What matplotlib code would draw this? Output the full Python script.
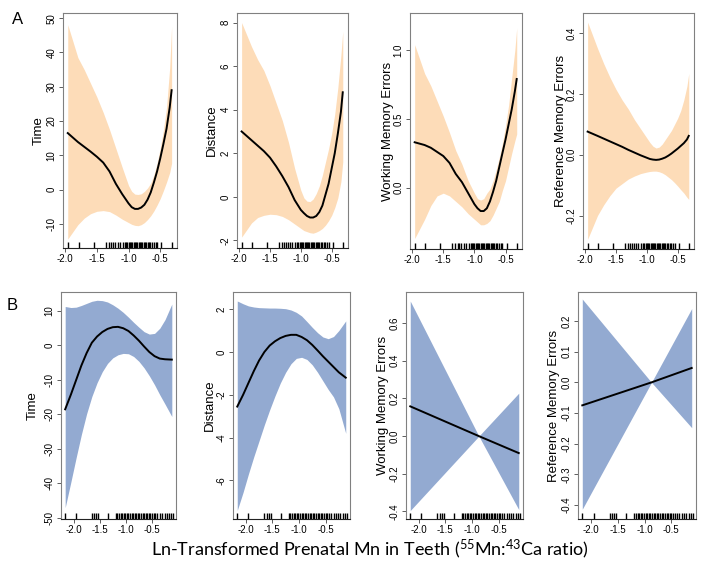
import numpy as np
import matplotlib
matplotlib.use('Agg')
from matplotlib import pyplot as plt

plt.rcParams['font.family'] = ['Liberation Sans', 'DejaVu Sans']
plt.rcParams['axes.unicode_minus'] = False

# ---- row A : peach bands
xa = [-1.96, -1.8, -1.7, -1.6, -1.5, -1.4, -1.3, -1.2, -1.1, -1.0, -0.95, -0.9,
      -0.85, -0.8, -0.75, -0.7, -0.65, -0.6, -0.55, -0.5, -0.45, -0.4, -0.35, -0.32]
time_a = [16.5, 13.9, 12.5, 11.1, 9.6, 7.9, 5.3, 1.7, -1.3, -4.0, -5.1, -5.6,
          -5.6, -5.2, -4.4, -2.9, -0.8, 2.1, 5.3, 9.1, 13.3, 17.8, 24.0, 29.0]
time_a_lo = [-14.4, -10.2, -8.3, -7.0, -6.3, -6.1, -6.4, -7.4, -8.6, -9.6, -10.1, -10.4,
             -10.5, -10.2, -9.6, -8.7, -7.6, -6.2, -4.5, -2.6, -0.3, 2.2, 5.0, 7.7]
time_a_hi = [48.1, 38.5, 35.0, 31.0, 27.0, 22.5, 17.5, 12.0, 6.5, 1.2, -0.5, -1.3,
             -1.4, -1.2, -0.5, 0.5, 1.9, 4.3, 7.7, 12.0, 17.3, 24.0, 35.6, 47.6]
dist_a = [3.0, 2.6, 2.35, 2.1, 1.8, 1.4, 0.95, 0.45, -0.15, -0.6, -0.75, -0.88,
          -0.95, -0.95, -0.88, -0.7, -0.4, 0.1, 0.6, 1.3, 2.0, 2.9, 3.9, 4.8]
dist_a_lo = [-1.85, -1.2, -0.95, -0.85, -0.8, -0.82, -0.9, -1.05, -1.25, -1.45, -1.55, -1.6,
             -1.65, -1.67, -1.62, -1.55, -1.45, -1.3, -1.1, -0.85, -0.5, -0.05, 0.7, 1.6]
dist_a_hi = [8.0, 6.9, 6.3, 5.8, 5.1, 4.3, 3.5, 2.5, 1.3, 0.3, -0.05, -0.2,
             -0.22, -0.1, 0.15, 0.5, 1.0, 1.6, 2.2, 2.9, 3.8, 5.0, 6.5, 7.6]
wme_a = [0.33, 0.31, 0.29, 0.26, 0.23, 0.18, 0.10, 0.04, -0.04, -0.12, -0.15, -0.17,
         -0.17, -0.15, -0.10, -0.03, 0.05, 0.15, 0.25, 0.35, 0.46, 0.57, 0.70, 0.79]
wme_a_lo = [-0.37, -0.23, -0.13, -0.06, -0.04, -0.06, -0.1, -0.14, -0.19, -0.23, -0.25, -0.27,
            -0.27, -0.26, -0.24, -0.2, -0.15, -0.1, -0.02, 0.05, 0.15, 0.25, 0.34, 0.39]
wme_a_hi = [1.04, 0.83, 0.74, 0.63, 0.52, 0.40, 0.27, 0.17, 0.05, -0.04, -0.08, -0.09,
            -0.08, -0.04, -0.01, 0.05, 0.13, 0.22, 0.32, 0.45, 0.6, 0.8, 1.0, 1.16]
rme_a = [0.076, 0.062, 0.053, 0.044, 0.035, 0.026, 0.016, 0.007, -0.002, -0.010, -0.014, -0.016,
         -0.017, -0.016, -0.013, -0.009, -0.003, 0.004, 0.012, 0.02, 0.029, 0.038, 0.05, 0.062]
rme_a_lo = [-0.278, -0.2, -0.165, -0.135, -0.11, -0.095, -0.08, -0.07, -0.062, -0.057, -0.055, -0.054,
            -0.054, -0.056, -0.06, -0.066, -0.074, -0.082, -0.092, -0.103, -0.115, -0.126, -0.14, -0.147]
rme_a_hi = [0.436, 0.35, 0.3, 0.255, 0.215, 0.18, 0.15, 0.115, 0.085, 0.055, 0.04, 0.028,
            0.022, 0.025, 0.035, 0.05, 0.065, 0.08, 0.1, 0.12, 0.145, 0.18, 0.225, 0.267]
rug_a = [-1.96, -1.79, -1.55, -1.36, -1.31, -1.27, -1.24, -1.21, -1.17, -1.14, -1.09, -1.06,
         -1.04, -1.02, -1.0, -0.98, -0.96, -0.94, -0.92, -0.9, -0.88, -0.86, -0.84, -0.82,
         -0.8, -0.78, -0.76, -0.74, -0.72, -0.7, -0.68, -0.66, -0.63, -0.6, -0.57, -0.55,
         -0.48, -0.32]

# ---- row B : blue bands
xb = [-2.16, -2.05, -1.95, -1.85, -1.75, -1.65, -1.55, -1.45, -1.35, -1.25, -1.15,
      -1.05, -0.95, -0.85, -0.75, -0.65, -0.55, -0.45, -0.35, -0.25, -0.12]
time_b = [-18.5, -14.2, -10.0, -5.8, -2.2, 0.8, 2.6, 3.9, 4.8, 5.3, 5.4,
          5.0, 4.2, 2.9, 1.4, -0.3, -1.9, -3.1, -3.8, -4.0, -4.1]
time_b_lo = [-47.0, -39.5, -32.5, -25.8, -19.8, -14.8, -10.8, -7.6, -5.2, -3.6, -2.7,
             -2.3, -2.4, -3.2, -4.6, -6.5, -8.8, -11.4, -14.3, -17.0, -20.6]
time_b_hi = [11.3, 11.0, 11.1, 11.6, 12.2, 12.8, 13.1, 13.0, 12.6, 11.8, 10.8,
             9.6, 8.2, 6.7, 5.3, 4.0, 3.3, 3.5, 5.0, 7.5, 12.0]
dist_b = [-2.55, -2.0, -1.45, -0.9, -0.4, 0.0, 0.3, 0.5, 0.65, 0.75, 0.8,
          0.8, 0.7, 0.55, 0.33, 0.07, -0.2, -0.45, -0.7, -0.95, -1.2]
dist_b_lo = [-7.4, -6.55, -5.7, -4.9, -4.15, -3.4, -2.7, -2.05, -1.45, -0.95, -0.55,
             -0.3, -0.25, -0.35, -0.6, -0.95, -1.35, -1.75, -2.1, -2.65, -3.8]
dist_b_hi = [2.38, 2.25, 2.15, 2.1, 2.07, 2.06, 2.05, 2.05, 2.04, 2.02, 1.96,
             1.85, 1.68, 1.42, 1.15, 0.9, 0.7, 0.62, 0.72, 1.0, 1.45]
xb_lin = [-2.16, -0.87, -0.12]
wme_b = [0.158, 0.0, -0.09]
wme_b_lo = [-0.395, 0.0, -0.39]
wme_b_hi = [0.717, 0.0, 0.228]
rme_b = [-0.075, 0.0, 0.047]
rme_b_lo = [-0.414, 0.0, -0.148]
rme_b_hi = [0.272, 0.0, 0.241]
rug_b = [-2.16, -1.95, -1.65, -1.61, -1.57, -1.53, -1.34, -1.19, -1.16, -1.13, -1.10, -1.07,
         -1.04, -1.01, -0.98, -0.95, -0.92, -0.89, -0.86, -0.83, -0.80, -0.77, -0.74, -0.71,
         -0.68, -0.65, -0.62, -0.59, -0.56, -0.53, -0.50, -0.47, -0.44, -0.40, -0.35, -0.30,
         -0.26, -0.22, -0.17, -0.13, -0.09]

xticks = [-2.0, -1.5, -1.0, -0.5]
xticklabels = ['-2.0', '-1.5', '-1.0', '-0.5']

peach = '#fddcb8'
blue = '#93aad1'

W, H = 704, 566
fig = plt.figure(figsize=(W / 100, H / 100), dpi=100)


def panel(box, x, fit, lo, hi, rug, color, xlim, ylim, yticks, ylabels, ylab, labx):
    l, t, r, b = box
    ax = fig.add_axes([l / W, 1 - b / H, (r - l) / W, (b - t) / H])
    ax.fill_between(x, lo, hi, color=color, lw=0)
    ax.plot(x, fit, color='black', lw=1.4)
    ax.vlines(rug, 0, 0.025, color='black', lw=1.0, transform=ax.get_xaxis_transform())
    ax.set_xlim(xlim)
    ax.set_ylim(ylim)
    ax.set_xticks(xticks)
    ax.set_xticklabels(xticklabels, fontsize=7)
    ax.set_yticks(yticks)
    ax.set_yticklabels(ylabels, fontsize=7, rotation=90, va='center')
    ax.tick_params(length=3, width=0.6, color='#444444', pad=1.5)
    for s in ax.spines.values():
        s.set_color('#808080')
        s.set_linewidth(0.8)
    ax.spines['bottom'].set_color('#222222')
    ax.set_ylabel(ylab, fontsize=9.5)
    ax.yaxis.set_label_coords(labx, 0.5)
    return ax


xla = [-2.035, -0.235]
xlb = [-2.24, -0.04]

panel((63, 13, 177, 248), xa, time_a, time_a_lo, time_a_hi, rug_a, peach, xla, [-17, 51.5],
      [-10, 0, 10, 20, 30, 40, 50], ['-10', '0', '10', '20', '30', '40', '50'], 'Time', -0.16)
panel((237, 13, 348, 248), xa, dist_a, dist_a_lo, dist_a_hi, rug_a, peach, xla, [-2.35, 8.44],
      [-2, 0, 2, 4, 6, 8], ['-2', '0', '2', '4', '6', '8'], 'Distance', -0.17)
panel((410, 13, 522, 249), xa, wme_a, wme_a_lo, wme_a_hi, rug_a, peach, xla, [-0.446, 1.27],
      [0.0, 0.5, 1.0], ['0.0', '0.5', '1.0'], 'Working Memory Errors', -0.14)
panel((583, 13, 694, 249), xa, rme_a, rme_a_lo, rme_a_hi, rug_a, peach, xla, [-0.31, 0.466],
      [-0.2, 0.0, 0.2, 0.4], ['-0.2', '0.0', '0.2', '0.4'], 'Reference Memory Errors', -0.14)

panel((61, 292, 176, 519), xb, time_b, time_b_lo, time_b_hi, rug_b, blue, xlb, [-50.3, 15.5],
      [-50, -40, -30, -20, -10, 0, 10], ['-50', '-40', '-30', '-20', '-10', '0', '10'], 'Time', -0.19)
panel((233, 292, 350, 519), xb, dist_b, dist_b_lo, dist_b_hi, rug_b, blue, xlb, [-7.8, 2.8],
      [-6, -4, -2, 0, 2], ['-6', '-4', '-2', '0', '2'], 'Distance', -0.145)
panel((406, 292, 523, 519), xb_lin, wme_b, wme_b_lo, wme_b_hi, rug_b, blue, xlb, [-0.44, 0.765],
      [-0.4, -0.2, 0.0, 0.2, 0.4, 0.6], ['-0.4', '-0.2', '0.0', '0.2', '0.4', '0.6'],
      'Working Memory Errors', -0.145)
panel((578, 292, 696, 519), xb_lin, rme_b, rme_b_lo, rme_b_hi, rug_b, blue, xlb, [-0.446, 0.295],
      [-0.4, -0.3, -0.2, -0.1, 0.0, 0.1, 0.2],
      ['-0.4', '-0.3', '-0.2', '-0.1', '0.0', '0.1', '0.2'], 'Reference Memory Errors', -0.15)

fig.text(18 / W, 1 - 20 / H, 'A', fontsize=12, ha='center', va='center')
fig.text(12 / W, 1 - 305 / H, 'B', fontsize=12, ha='center', va='center')

plt.rcParams['mathtext.fontset'] = 'custom'
plt.rcParams['mathtext.rm'] = 'Lato'
fig.text(370 / W, 1 - 549 / H,
         r'Ln-Transformed Prenatal Mn in Teeth ($\mathregular{^{55}}$Mn:$\mathregular{^{43}}$Ca ratio)',
         fontsize=13, ha='center', va='center', family=['Lato', 'DejaVu Sans'])

fig.savefig('out.png', dpi=100)
